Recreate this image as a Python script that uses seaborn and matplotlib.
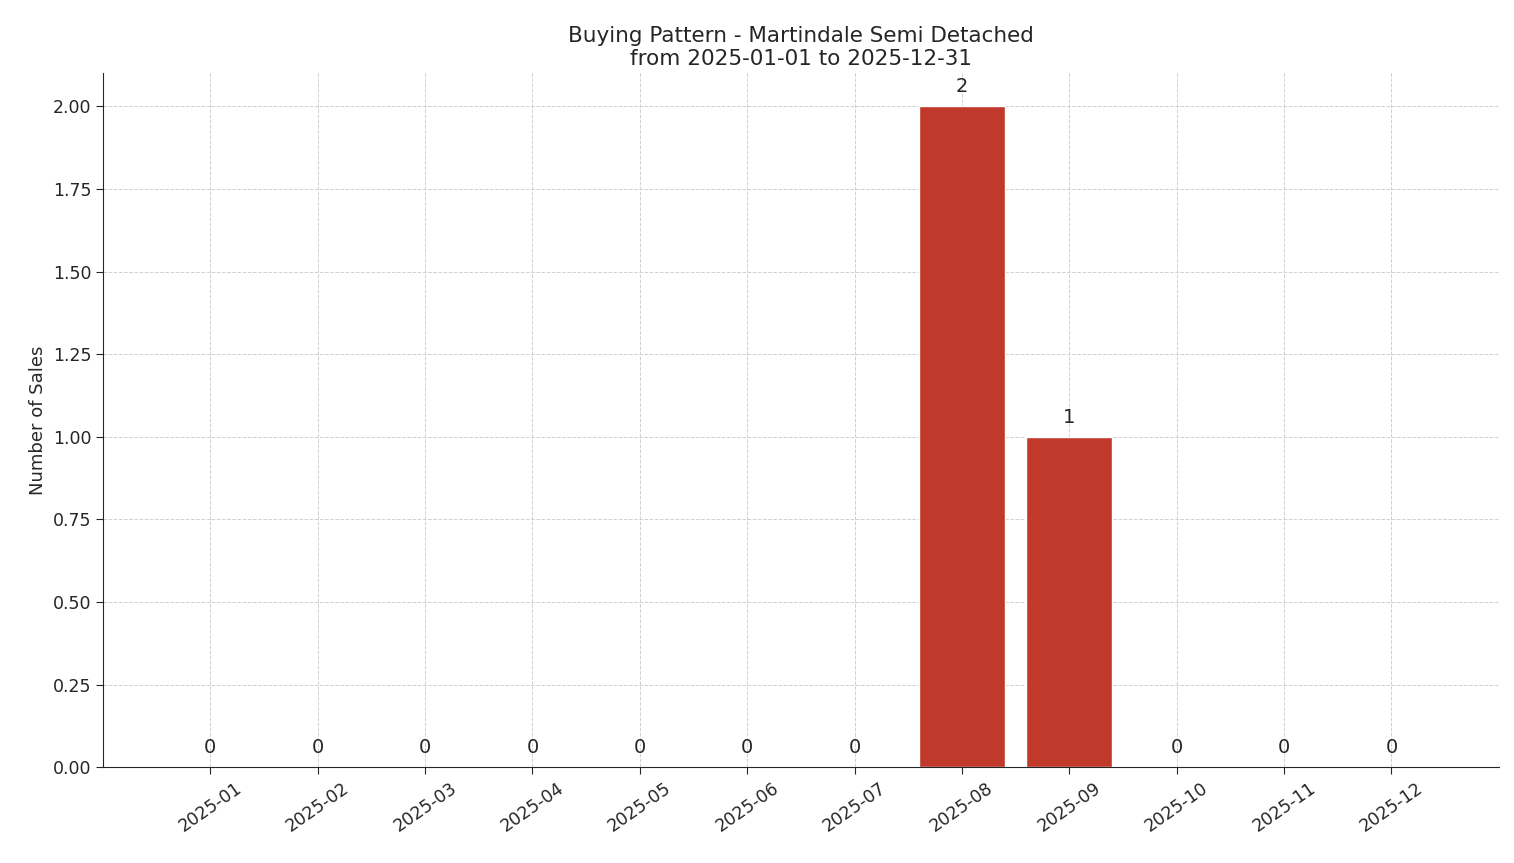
import matplotlib
matplotlib.use("Agg")
import matplotlib.pyplot as plt
import seaborn as sns
import pandas as pd

# data
months = ["2025-01", "2025-02", "2025-03", "2025-04", "2025-05", "2025-06",
          "2025-07", "2025-08", "2025-09", "2025-10", "2025-11", "2025-12"]
sales = [0, 0, 0, 0, 0, 0, 0, 2, 1, 0, 0, 0]

df = pd.DataFrame({"month": months, "sales": sales})

sns.set_style("white")
fig, ax = plt.subplots(figsize=(15.14, 8.63), dpi=100)
sns.barplot(data=df, x="month", y="sales", color="#c0392b", saturation=1,
            width=0.8, ax=ax, zorder=2)

for i, v in enumerate(sales):
    ax.text(i, v + 0.03, str(v), ha="center", va="bottom", fontsize=14)

ax.set_xlim(-1, 12)
ax.set_ylim(0, 2.1)
ax.set_yticks([0, 0.25, 0.5, 0.75, 1.0, 1.25, 1.5, 1.75, 2.0])
ax.set_yticklabels([f"{t:.2f}" for t in ax.get_yticks()])
ax.grid(True, linestyle="--", color="#d0d0d0", linewidth=0.7, zorder=0)
ax.set_axisbelow(True)
ax.tick_params(axis="both", labelsize=12.5, length=5, left=True, bottom=True)
plt.setp(ax.get_xticklabels(), rotation=35)
ax.set_xlabel("")
ax.set_ylabel("Number of Sales", fontsize=13)
ax.set_title("Buying Pattern - Martindale Semi Detached\nfrom 2025-01-01 to 2025-12-31",
             fontsize=15.5)
sns.despine(ax=ax)

plt.subplots_adjust(left=0.068, right=0.99, top=0.915, bottom=0.111)
plt.savefig("out.png", dpi=100)
